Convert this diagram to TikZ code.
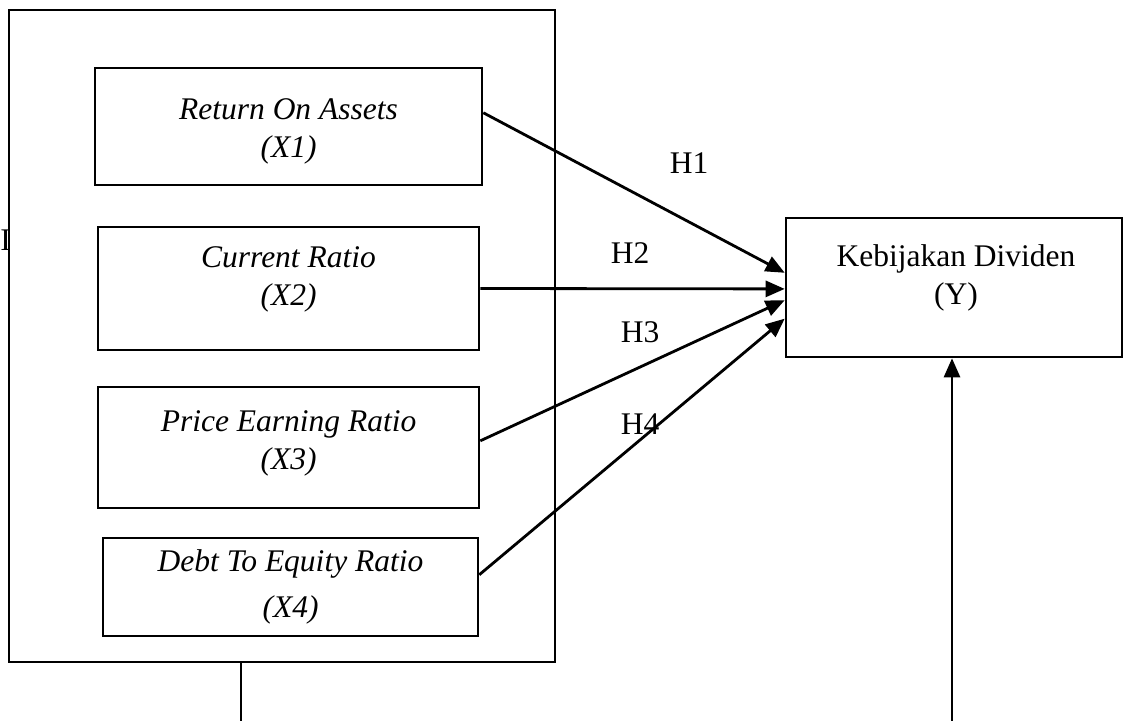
\documentclass[tikz,border=0pt]{standalone}
\usepackage{fontspec}
\setmainfont{Liberation Serif}
\usetikzlibrary{arrows.meta,calc}
\begin{document}
\begin{tikzpicture}[x=1pt,y=-1pt,
  txt/.style={font=\fontsize{31.5}{38}\selectfont, align=center},
  varbox/.style={draw, line width=2.6pt, inner sep=0pt},
  lbl/.style={fill=white, inner sep=0pt, txt},
  link/.style={line width=2.8pt, -{Triangle[length=19pt,width=16pt]}},
  plain/.style={line width=2.6pt}]
\useasboundingbox (0,0) rectangle (1123,720);
\node[txt, anchor=center] (frag) at (5.5,240) {I};
\node[draw, line width=2.6pt, minimum width=546pt, minimum height=652pt, inner sep=0pt] (outer) at (282,336) {};
\node[varbox, minimum width=387pt, minimum height=117pt] (b1) at (288.5,126.5) {};
\node[varbox, minimum width=381pt, minimum height=123pt] (b2) at (288.5,288.5) {};
\node[varbox, minimum width=381pt, minimum height=121pt] (b3) at (288.5,447.5) {};
\node[varbox, minimum width=375pt, minimum height=98pt] (b4) at (290.5,587) {};
\node[varbox, minimum width=336pt, minimum height=139pt] (kb) at (954,287.5) {};
\node[txt] (t1) at (288.5,131) {\textit{Return On Assets}\\\textit{(X1)}};
\node[txt] (t2) at (288.5,279) {\textit{Current Ratio}\\\textit{(X2)}};
\node[txt] (t3) at (288.5,443) {\textit{Price Earning Ratio}\\\textit{(X3)}};
\node[txt, font=\fontsize{31.5}{46}\selectfont] (t4) at (290.5,587) {\textit{Debt To Equity Ratio}\\\textit{(X4)}};
\node[txt] (tk) at (956,278) {Kebijakan Dividen\\(Y)};
\node[lbl] (h1) at (689,163) {H1};
\node[lbl, minimum width=111pt, minimum height=60pt] (h2) at (630,253) {H2};
\node[lbl, minimum width=112pt, minimum height=71pt] (h3) at (640,332) {H3};
\node[lbl, minimum width=111pt, minimum height=68pt] (h4) at (640,424) {H4};
\coordinate (s1) at ($(b1.north east)!0.385!(b1.south east)$);
\coordinate (s2) at (b2.east);
\coordinate (s3) at ($(b3.north east)!0.446!(b3.south east)$);
\coordinate (s4) at ($(b4.north east)!0.378!(b4.south east)$);
\coordinate (e1) at ($(kb.north west)!0.396!(kb.south west)$);
\coordinate (e2) at ($(kb.north west)!0.51!(kb.south west)$);
\coordinate (e3) at ($(kb.north west)!0.59!(kb.south west)$);
\coordinate (e4) at ($(kb.north west)!0.72!(kb.south west)$);
\draw[link] (s1) -- (e1);
\draw[link] (s2) -- (e2);
\draw[link] (s3) -- (e3);
\draw[link] (s4) -- (e4);
\coordinate (ob) at (241,662);
\coordinate (obend) at (241,722);
\draw[plain] (ob) -- (obend);
\coordinate (kbend) at (952,722);
\draw[link] (kbend) -- (kbend |- kb.south);
\end{tikzpicture}
\end{document}
